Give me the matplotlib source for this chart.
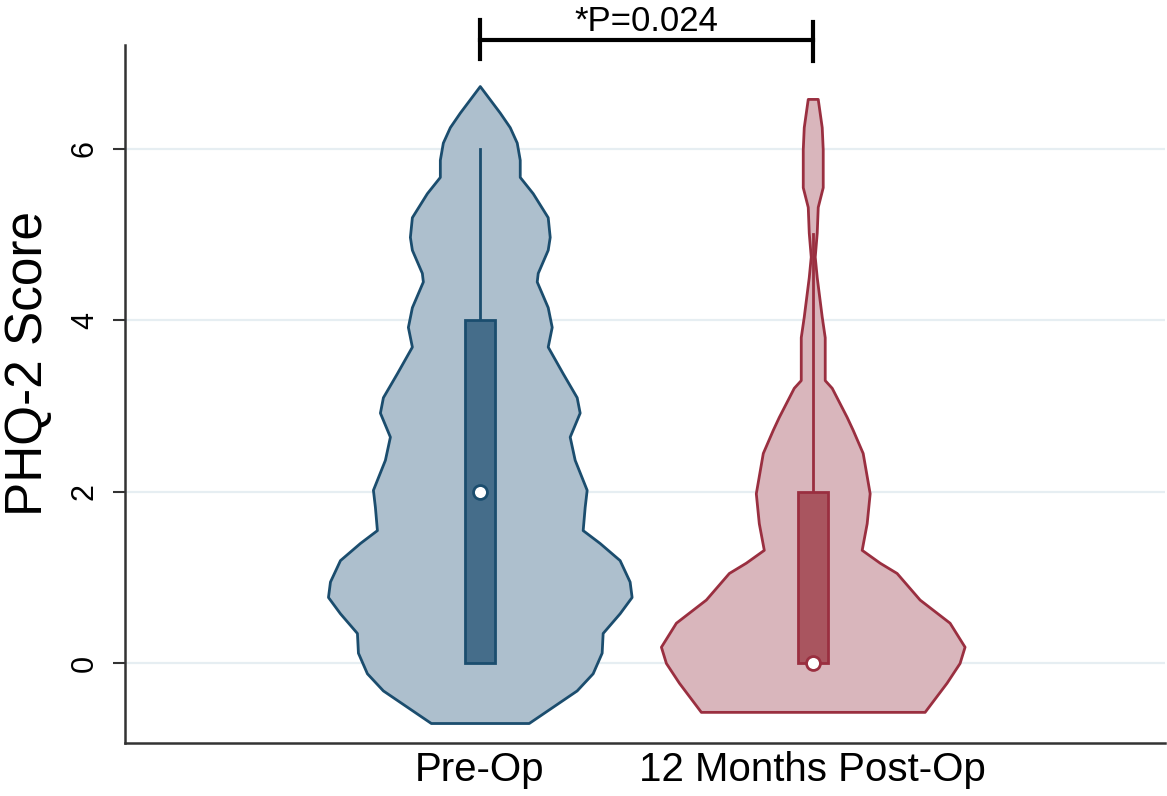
import numpy as np
import matplotlib
matplotlib.use("Agg")
import matplotlib.pyplot as plt
from matplotlib.patches import Rectangle

plt.rcParams['font.family'] = ['Liberation Sans', 'DejaVu Sans']

groups = ["Pre-Op", "12 Months Post-Op"]

# violin outlines: score value and half width (category units)
pre_y = [-0.70, -0.32, -0.12, 0.12, 0.35, 0.58, 0.77, 0.95, 1.20, 1.40, 1.55, 1.82, 2.02,
         2.37, 2.64, 2.92, 3.10, 3.38, 3.69, 3.92, 4.15, 4.45, 4.55, 4.82, 4.97,
         5.20, 5.48, 5.67, 5.87, 6.07, 6.25, 6.42, 6.73]
pre_hw = [0.147, 0.291, 0.339, 0.366, 0.369, 0.420, 0.456, 0.450, 0.420, 0.360, 0.309, 0.315, 0.321,
          0.285, 0.270, 0.300, 0.291, 0.249, 0.204, 0.216, 0.204, 0.171, 0.174, 0.204, 0.210,
          0.204, 0.159, 0.120, 0.120, 0.111, 0.090, 0.060, 0.0]
post_y = [-0.57, -0.23, 0.00, 0.19, 0.47, 0.74, 1.05, 1.17, 1.32, 1.63, 1.98, 2.45,
          2.72, 2.87, 3.21, 3.30, 3.80, 4.04, 4.50, 4.74, 5.02, 5.32, 5.55, 5.99,
          6.25, 6.58]
post_hw = [0.336, 0.402, 0.441, 0.456, 0.411, 0.321, 0.252, 0.201, 0.147, 0.162, 0.171, 0.150,
           0.120, 0.102, 0.057, 0.036, 0.036, 0.027, 0.012, 0.006, 0.012, 0.015, 0.030, 0.030,
           0.027, 0.015]

# box plot summaries
q1 = [0, 0]
median = [2, 0]
q3 = [4, 2]
whisk_hi = [6, 5]

p_text = "*P=0.024"

fills = ["#adbfcd", "#d9b6bc"]
edges = ["#1b4d6e", "#9a2f40"]
box_fills = ["#456d8a", "#a9555f"]

fig = plt.figure(figsize=(11.67, 7.96), dpi=100)
ax = fig.add_axes([0.107, 0.0666, 0.891, 0.877])

for g in [0, 2, 4, 6]:
    ax.axhline(g, color="#e6eef2", lw=1.6, zorder=0)

outlines = [(pre_y, pre_hw), (post_y, post_hw)]
for i, (yy, hw) in enumerate(outlines):
    c = i + 1
    yy = np.array(yy)
    hw = np.array(hw)
    ax.fill_betweenx(yy, c - hw, c + hw, facecolor=fills[i], edgecolor=edges[i],
                     lw=2, zorder=2)
    ax.plot([c, c], [q3[i], whisk_hi[i]], color=edges[i], lw=2, zorder=3)
    ax.add_patch(Rectangle((c - 0.045, q1[i]), 0.09, q3[i] - q1[i],
                           facecolor=box_fills[i], edgecolor=edges[i], lw=2, zorder=4))
    ax.plot(c, median[i], 'o', ms=10, mfc="white", mec=edges[i], mew=2, zorder=5)

ax.set_xlim(-0.066, 3.057)
ax.set_ylim(-0.933, 7.21)
ax.set_xticks([1, 2])
ax.set_xticklabels(groups, fontsize=29)
ax.tick_params(axis='x', length=0, pad=6)
ax.set_yticks([0, 2, 4, 6])
ax.set_yticklabels(["0", "2", "4", "6"], fontsize=22, rotation=90, va='center')
ax.tick_params(axis='y', length=9, width=1.5, color="#333333", pad=9)
ax.set_ylabel("PHQ-2 Score", fontsize=37)
ax.yaxis.set_label_coords(-0.069, 0.544)

for s in ["top", "right"]:
    ax.spines[s].set_visible(False)
for s in ["left", "bottom"]:
    ax.spines[s].set_color("#333333")
    ax.spines[s].set_linewidth(1.8)

# significance bracket
yb = 7.27
ax.plot([1, 2], [yb, yb], color="black", lw=3, clip_on=False)
ax.plot([1, 1], [7.04, 7.50], color="black", lw=3, clip_on=False)
ax.plot([2, 2], [7.02, 7.48], color="black", lw=3, clip_on=False)
ax.text(1.5, 7.37, p_text, ha='center', va='baseline', fontsize=25)

fig.savefig("out.png", dpi=100)
